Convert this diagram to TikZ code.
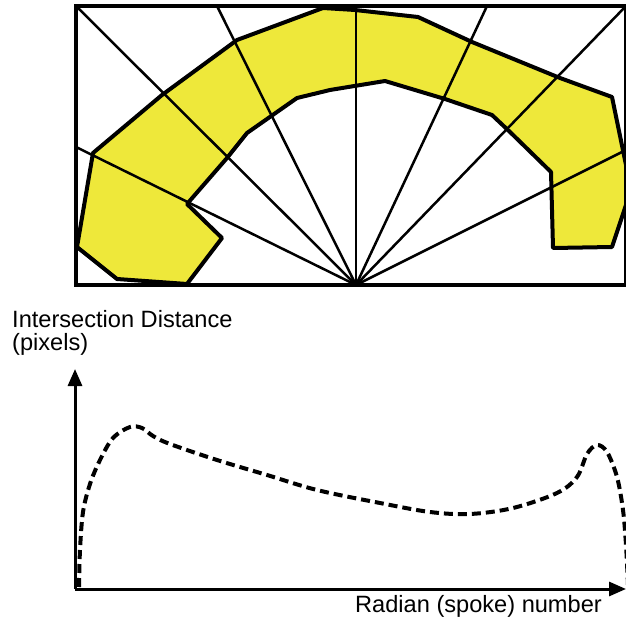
\documentclass[tikz,border=0pt]{standalone}
\usepackage{fontspec}
\setmainfont{Liberation Sans}
\usetikzlibrary{arrows.meta}
\definecolor{blobYellow}{RGB}{238,232,58}

\begin{document}
\begin{tikzpicture}[x=1pt,y=-1pt,
      blob/.style={fill=blobYellow,draw=black,line width=4pt,line join=round},
      spoke/.style={line width=2.5pt},
      axis/.style={line width=3pt,-{Triangle[length=17pt,width=14pt]}},
      dist/.style={line width=4pt,dash pattern=on 9pt off 5pt},
      lab/.style={font=\fontsize{23.6}{26}\selectfont,inner sep=0pt,anchor=base west}]
    \useasboundingbox (0,0) rectangle (626,620);
    % segmented shape
    \draw[blob] (93,153) -- (162,95) -- (237,40) -- (323,8) -- (355,10) -- (418,17)
      -- (472,42) -- (560,78) -- (612,97) -- (626,165) -- (626,205) -- (612,247)
      -- (553,248) -- (551,172) -- (510,132) -- (492,115) -- (445,99) -- (385,81)
      -- (330,90) -- (297,98) -- (247,133) -- (227,158) -- (187,204) -- (222,238)
      -- (187,284) -- (117,279) -- (77,247) -- cycle;
    \coordinate (hub) at (356,285);
    \foreach \x/\y [count=\i] in {76/147, 76/6, 217/6, 356/6, 487/6, 626/6, 626/150} {
      \coordinate (rim\i) at (\x,\y);
      \draw[spoke] (hub) -- (rim\i);
    }
    \draw[line width=3.6pt] (76,6) rectangle (626,285);
    % distance profile
    \coordinate (origin) at (75,589);
    \coordinate (ytip) at (75,369);
    \coordinate (xtip) at (626,589);
    \draw[axis] (origin) -- (ytip);
    \draw[axis] (origin) -- (xtip);
    \draw[dist] plot[smooth,tension=0.55] coordinates {
      (79,587) (80,550) (83,512) (90,484) (100,460) (113,438) (130,427) (142,428)
      (153,436) (170,444) (217,460) (267,475) (317,490) (380,503) (430,512)
      (470,514) (513,508) (557,493) (577,477) (587,454) (597,445) (607,452)
      (617,477) (623,510) (626,545) (628,585)};
    \node[lab] (ylab) at (12,327) {Intersection Distance};
    \node[lab] (yunit) at (12,350) {(pixels)};
    \node[lab] (xlab) at (355,612) {Radian (spoke) number};
  \end{tikzpicture}
\end{document}
